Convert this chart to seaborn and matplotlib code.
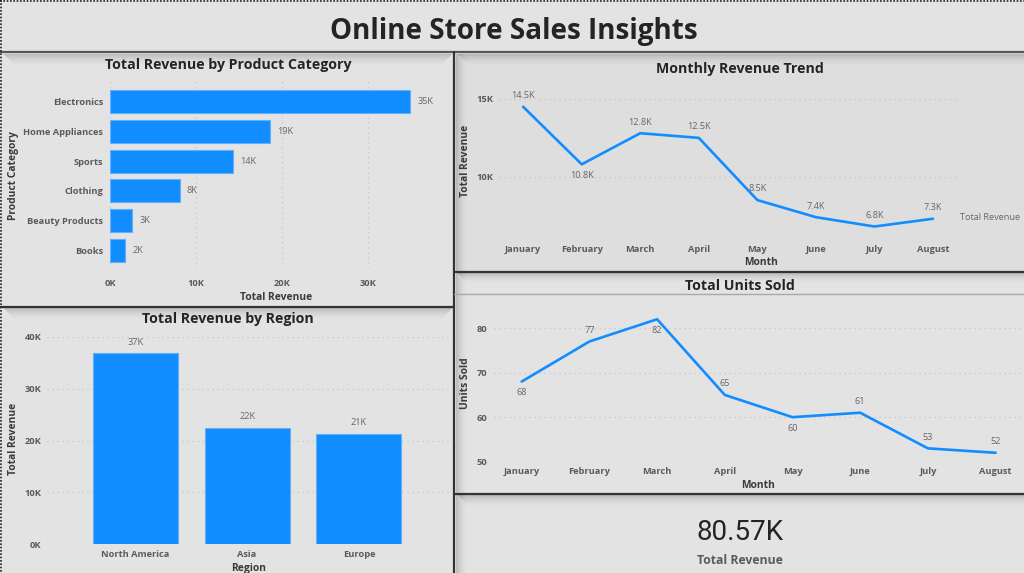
import matplotlib
matplotlib.use("Agg")
import matplotlib.pyplot as plt
import seaborn as sns
from matplotlib.ticker import FuncFormatter

W, H = 1024, 573

categories = ["Electronics", "Home Appliances", "Sports", "Clothing", "Beauty Products", "Books"]
category_revenue = [34900, 18600, 14300, 8100, 2600, 1800]
category_labels = ["35K", "19K", "14K", "8K", "3K", "2K"]

regions = ["North America", "Asia", "Europe"]
region_revenue = [36800, 22450, 21250]
region_labels = ["37K", "22K", "21K"]

months = ["January", "February", "March", "April", "May", "June", "July", "August"]
monthly_revenue = [14500, 10800, 12800, 12500, 8500, 7400, 6800, 7300]
monthly_labels = ["14.5K", "10.8K", "12.8K", "12.5K", "8.5K", "7.4K", "6.8K", "7.3K"]
units_sold = [68, 77, 82, 65, 60, 61, 53, 52]

BLUE = "#118DFF"
EDGE = "#62B0FA"
BG = "#E3E3E3"
DARK = "#252423"
TICK = "#5A5A5A"
LABEL = "#666666"
BORDER = "#333333"
GRID = dict(color="#C6C6C6", ls=(0, (1, 3)), lw=0.9)
TICK_SIZE = 6.7

sns.set_theme(style="whitegrid")
plt.rcParams["font.family"] = ["Open Sans", "DejaVu Sans"]

fig = plt.figure(figsize=(W / 100, H / 100), dpi=100, facecolor=BG)

# page furniture is drawn in pixel coordinates on a full-size backdrop
bg = fig.add_axes([0, 0, 1, 1], zorder=0)
bg.set_xlim(0, W)
bg.set_ylim(H, 0)
bg.axis("off")
bg.add_patch(plt.Rectangle((455, 53), W - 455, 218, color="#DEDEDE", lw=0))


def shadow_down(x0, x1, y, depth=13):
    # inset each strip a little so the ends of the shadow fade out too
    for i in range(depth):
        bg.add_patch(plt.Rectangle((x0 + i, y + i), x1 - x0 - 2 * i, 1, color="black", lw=0,
                                   alpha=0.17 * (1 - i / depth) ** 2))


def shadow_right(x, y0, y1, depth=12):
    for i in range(depth):
        bg.add_patch(plt.Rectangle((x + i, y0), 1, y1 - y0, color="black", lw=0,
                                   alpha=0.17 * (1 - i / depth) ** 2))


shadow_down(4, 452, 54)
shadow_down(4, 452, 308)
shadow_down(458, W + 14, 54)
shadow_down(458, W + 14, 273, 10)
shadow_down(458, W + 14, 495)
shadow_right(456, 54, H)

bg.plot([0, W], [51.5, 51.5], color="#555555", lw=1.6)
bg.plot([453.5, 453.5], [52, H], color=BORDER, lw=1.6)
bg.plot([0, 454], [306.5, 306.5], color=BORDER, lw=1.6)
bg.plot([454, W], [271.5, 271.5], color=BORDER, lw=1.6)
bg.plot([454, W], [293.5, 293.5], color="#A8A8A8", lw=1.0)
bg.plot([454, W], [493.5, 493.5], color=BORDER, lw=1.6)
bg.plot([0, W], [1, 1], color="#222222", lw=1.2, ls=(0, (1, 1)))
bg.plot([1, 1], [0, H], color="#222222", lw=1.2, ls=(0, (1, 1)))


def panel(x0, y0, x1, y1):
    ax = fig.add_axes([x0 / W, 1 - y1 / H, (x1 - x0) / W, (y1 - y0) / H], zorder=1)
    ax.patch.set_alpha(0)
    sns.despine(ax=ax, left=True, bottom=True, right=True, top=True)
    return ax


def style_ticks(ax, xpad, ypad):
    ax.tick_params(length=0, labelsize=TICK_SIZE, labelcolor=TICK)
    ax.tick_params(axis="x", pad=xpad)
    ax.tick_params(axis="y", pad=ypad)
    for t in ax.get_xticklabels() + ax.get_yticklabels():
        t.set_fontweight("bold")
    # baseline alignment keeps "May" and "June" level with the other months
    for t in ax.get_xticklabels():
        t.set_verticalalignment("baseline")


def px_text(x, y, s, **kw):
    bg.text(x, y, s, ha=kw.pop("ha", "center"), va="center", **kw)


kfmt = FuncFormatter(lambda v, _: f"{v / 1000:.0f}K")

# Product category bars
ax = panel(110, 81, 440, 268)
sns.barplot(y=categories, x=category_revenue, color=BLUE, saturation=1, width=0.78,
            edgecolor=EDGE, linewidth=0.8, ax=ax)
ax.set_xlim(0, 38330)
ax.set_ylim(5.6, -0.7)
ax.set_xticks([0, 10000, 20000, 30000])
ax.xaxis.set_major_formatter(kfmt)
ax.grid(False)
ax.grid(axis="x", **GRID)
ax.set_axisbelow(True)
style_ticks(ax, 13, 5)
for i, (v, s) in enumerate(zip(category_revenue, category_labels)):
    ax.annotate(s, (v, i), xytext=(5, 0), textcoords="offset points", va="center", fontsize=6.6, color=LABEL)

# Region bars
ax = panel(47, 336.7, 449, 544.3)
sns.barplot(x=regions, y=region_revenue, color=BLUE, saturation=1, width=0.76,
            edgecolor=EDGE, linewidth=0.8, ax=ax)
ax.set_xlim(-0.79, 2.806)
ax.set_ylim(0, 40000)
ax.set_yticks([0, 10000, 20000, 30000, 40000])
ax.yaxis.set_major_formatter(kfmt)
ax.grid(False)
ax.grid(axis="y", **GRID)
ax.set_axisbelow(True)
style_ticks(ax, 9.2, 4)
for i, (v, s) in enumerate(zip(region_revenue, region_labels)):
    ax.annotate(s, (i, v), xytext=(0, 8), textcoords="offset points", ha="center", va="center",
                fontsize=6.6, color=LABEL)

# Monthly revenue line
ax = panel(499.4, 85, 957, 236)
sns.lineplot(x=months, y=monthly_revenue, sort=False, color=BLUE, linewidth=1.9, ax=ax)
ax.set_xlim(-0.406, 7.41)
ax.set_ylim(6190, 15900)
ax.set_yticks([10000, 15000])
ax.yaxis.set_major_formatter(kfmt)
ax.grid(False)
ax.grid(axis="y", **GRID)
style_ticks(ax, 11.2, 4.5)
for i, (v, s) in enumerate(zip(monthly_revenue, monthly_labels)):
    dy = -8 if months[i] == "February" else 8
    ax.annotate(s, (i, v), xytext=(0, dy), textcoords="offset points", ha="center", va="center",
                fontsize=6.6, color=LABEL)

# Units sold line
ax = panel(494, 305, 1024, 461.7)
sns.lineplot(x=months, y=units_sold, sort=False, color=BLUE, linewidth=1.9, ax=ax)
ax.set_xlim(-0.409, 7.42)
ax.set_ylim(50, 85.2)
ax.set_yticks([50, 60, 70, 80])
ax.grid(False)
ax.grid(axis="y", **GRID)
style_ticks(ax, 8.9, 5)
below = ["January", "March", "May"]
for i, v in enumerate(units_sold):
    dy = -8 if months[i] in below else 8
    ax.annotate(str(v), (i, v), xytext=(0, dy), textcoords="offset points", ha="center", va="center",
                fontsize=6.6, color=LABEL)

# Titles and axis captions
px_text(514, 31, "Online Store Sales Insights", fontsize=20.1, fontweight="bold", color=DARK)
px_text(228, 64.5, "Total Revenue by Product Category", fontsize=10.2, fontweight="bold", color=DARK)
px_text(228, 319.5, "Total Revenue by Region", fontsize=10.2, fontweight="bold", color=DARK)
px_text(740, 68.5, "Monthly Revenue Trend", fontsize=10.2, fontweight="bold", color=DARK)
px_text(740, 285.5, "Total Units Sold", fontsize=10.2, fontweight="bold", color=DARK)

cap = dict(fontsize=7.4, fontweight="bold", color="#3A3A3A")
px_text(276, 297, "Total Revenue", **cap)
px_text(13.5, 176, "Product Category", rotation=90, **cap)
px_text(249, 568, "Region", **cap)
px_text(13.5, 439, "Total Revenue", rotation=90, **cap)
px_text(761, 262.5, "Month", **cap)
px_text(465, 161, "Total Revenue", rotation=90, **cap)
px_text(758, 485, "Month", **cap)
px_text(465, 383.5, "Units Sold", rotation=90, **cap)

px_text(990, 217.5, "Total Revenue", fontsize=6.6, color=LABEL)
px_text(740, 532, "80.57K", fontsize=20, color=DARK, family="Roboto")
px_text(740, 560, "Total Revenue", fontsize=8.8, fontweight="bold", color=TICK)

fig.savefig("out.png", dpi=100, facecolor=BG)
